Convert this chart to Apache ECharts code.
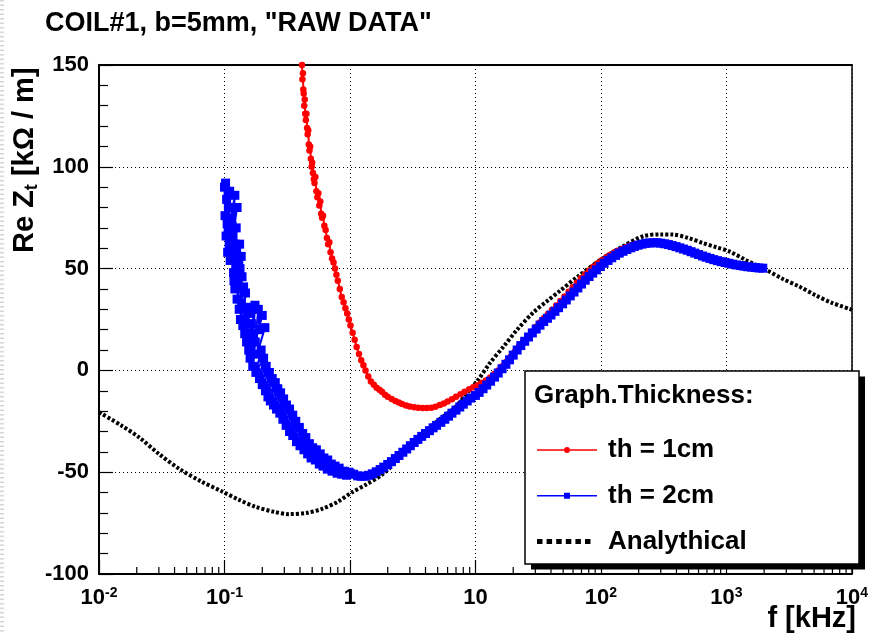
<!DOCTYPE html>
<html>
<head>
<meta charset="utf-8">
<script src="https://cdn.jsdelivr.net/npm/echarts@6/dist/echarts.min.js"></script>
<style>
html,body{margin:0;padding:0;background:#fff;}
#chart{width:871px;height:634px;}
</style>
</head>
<body>
<div id="chart"></div>
<script>
// ---- data (f in kHz, Re Zt in kOhm/m) ----
const titleText = 'COIL#1, b=5mm, "RAW DATA"';
const yTitleText = '{m|Re Z}{t|t}{m| [kΩ / m]}';
const xTitleText = 'f [kHz]';
const legendTitle = 'Graph.Thickness:';
const seriesNames = ['th = 1cm', 'th = 2cm', 'Analythical'];

const redData = [
[0.40,158],[0.415,150],[0.418,143],[0.422,146],[0.425,138],[0.428,136],[0.432,130],[0.436,133],[0.440,126],[0.445,123],
[0.450,126],[0.455,119],[0.460,116],[0.465,118],[0.470,111],[0.476,108],[0.482,110],[0.488,104],[0.495,100],[0.500,102],
[0.507,97],[0.515,94],[0.522,92],[0.530,95],[0.540,88],[0.550,85],[0.560,87],[0.570,81],[0.580,83],[0.590,77],
[0.600,75],[0.610,76],[0.625,71],[0.640,69],[0.655,65],[0.670,62],[0.685,63],[0.700,58],[0.720,55],[0.740,53],
[0.760,50],[0.780,47],[0.800,44],[0.830,40],[0.860,36],[0.890,33.5],[0.920,30.5],[0.950,28],[0.980,25],[1.01,22],
[1.05,18.5],[1.09,15],[1.13,11.5],[1.18,8],[1.23,5],[1.28,2.5],[1.33,0],[1.40,-3],[1.47,-5.5],[1.55,-7],
[1.63,-8.5],[1.72,-9.5],[1.80,-10.5],[1.90,-12],[2.00,-13],[2.15,-14],[2.30,-15],[2.45,-15.8],[2.60,-16.5],[2.80,-17.2],
[3.00,-17.7],[3.25,-18.1],[3.50,-18.4],[3.80,-18.5],[4.10,-18.5],[4.45,-18.3],[4.80,-17.8],[5.20,-17],[5.60,-16.2],[6.00,-15.3],
[6.50,-14.2],[7.00,-13],[7.60,-11.7],[8.20,-10.5],[8.90,-9.3],[9.60,-8.3],[10.4,-7.3],[11.2,-6.2],[12.1,-5],[13.1,-3.5],
[14.1,-1.8],[15.2,0],[16.4,2],[17.7,4.3],[19.1,6.7],[20.6,9.2],[22.2,11.7],[24.0,14.2],[25.9,16.7],[27.9,19],
[30.1,21.3],[32.5,23.5],[35.0,25.6],[37.8,27.7],[40.8,29.8],[44.0,31.9],[47.5,34.1],[51.2,36.3],[55.3,38.6],[59.6,40.8],
[64.3,43],[69.4,45.2],[74.9,47.2],[80.8,49.1],[87.2,50.9],[94.1,52.5],[101,54],[110,55.5],[118,56.7],[128,57.9],
[138,58.9],[149,59.8],[160,60.6],[173,61.3],[187,61.9],[201,62.4],[217,62.7],[234,62.9],[253,62.9],[273,62.8],
[294,62.5],[318,62.1],[343,61.6],[370,61],[399,60.4],[430,59.7],[464,59],[501,58.3],[540,57.6],[583,56.9],
[629,56.2],[678,55.5],[732,54.9],[790,54.3],[852,53.7],[919,53.2],[992,52.7],[1070,52.2],[1155,51.8],[1246,51.4],
[1344,51],[1450,50.7],[1565,50.4],[1688,50.2],[1822,50],[1950,49.8]
];

const blueData = [
[0.100,90],[0.101,76],[0.102,92],[0.103,66],[0.104,84],[0.105,72],[0.106,58],[0.108,80],[0.107,68],[0.110,88],
[0.109,62],[0.112,74],[0.121,86],[0.111,54],[0.115,71],[0.126,80],[0.113,60],[0.124,70],[0.118,48],[0.117,66],
[0.132,62],[0.116,55],[0.122,62],[0.136,56],[0.119,44],[0.125,58],[0.123,52],[0.121,40],[0.130,54],[0.128,42],
[0.133,50],[0.126,35],[0.138,46],[0.131,30],[0.142,41],[0.136,33],[0.134,25],[0.147,38],[0.140,22],[0.152,31],
[0.145,18],[0.158,28],[0.150,14],[0.164,23],[0.156,10],[0.175,32],[0.170,18],[0.160,6],[0.200,27],[0.176,14],
[0.168,2],[0.186,30],[0.190,20],[0.210,21],[0.182,8],[0.196,10],[0.178,-1],[0.205,6],[0.190,-4],[0.215,2],
[0.200,-7],[0.228,-1],[0.212,-10],[0.240,-4],[0.222,-13],[0.254,-6],[0.232,-15],[0.266,-9],[0.246,-17],[0.280,-11],
[0.260,-19],[0.296,-14],[0.276,-21],[0.312,-17],[0.292,-24],[0.330,-19],[0.310,-27],[0.350,-22],[0.330,-30],[0.370,-25],
[0.350,-32],[0.395,-28],[0.375,-35],[0.420,-31],[0.400,-37],[0.445,-33],[0.430,-39],[0.475,-36],[0.460,-41],[0.505,-38],
[0.490,-43],[0.540,-39],[0.530,-44],[0.580,-41],[0.570,-46],[0.620,-43],[0.610,-47],[0.665,-44],[0.660,-48.5],[0.710,-46],
[0.720,-49.5],[0.760,-47],[0.790,-50.5],[0.820,-48],[0.860,-51],[0.900,-49.5],[0.940,-51.5],[0.980,-50],
[1.00,-50.5],[1.07,-51],[1.15,-51.8],[1.23,-52],[1.32,-52],[1.41,-51.5],[1.51,-50.8],[1.62,-49.8],[1.74,-48.7],[1.86,-47.5],
[2.00,-46.2],[2.14,-44.8],[2.30,-43.3],[2.46,-41.8],[2.64,-40.2],[2.83,-38.6],[3.03,-37],[3.25,-35.4],[3.48,-33.9],[3.73,-32.4],
[4.00,-31],[4.30,-29.6],[4.60,-28.2],[4.90,-27],[5.30,-25.5],[5.70,-24],[6.10,-22.5],[6.50,-21],[7.00,-19.5],[7.50,-18],
[8.00,-16.6],[8.60,-15],[9.20,-13.6],[10.0,-12.3],[10.7,-10.8],[11.5,-9],[12.3,-7.2],[13.2,-5.3],[14.2,-3.3],[15.2,-1.3],
[16.3,0.8],[17.5,3],[18.7,5.2],[20.0,7.5],[21.5,10],[23.0,12.2],[24.7,14.3],[26.5,16.4],[28.4,18.4],[30.5,20.3],
[32.7,22.2],[35.0,24],[37.5,25.6],[40.0,27.2],[43.0,29],[46.0,30.8],[49.5,32.7],[53.0,34.6],[57.0,36.6],[61.0,38.5],
[65.5,40.5],[70.0,42.4],[75.0,44.3],[80.5,46.1],[86.0,47.8],[92.0,49.4],[99.0,51],[106,52.6],[114,54],[122,55.3],
[131,56.5],[140,57.6],[150,58.5],[161,59.4],[173,60.2],[185,60.9],[198,61.5],[212,62],[228,62.4],[244,62.6],
[262,62.7],[280,62.7],[300,62.5],[322,62.2],[345,61.8],[370,61.3],[397,60.8],[425,60.2],[455,59.6],[488,59],
[523,58.3],[560,57.6],[600,56.9],[645,56.2],[690,55.6],[740,55],[793,54.4],[850,53.9],[910,53.4],[977,53],
[1047,52.6],[1122,52.2],[1202,51.8],[1290,51.5],[1380,51.2],[1480,50.9],[1590,50.7],[1700,50.5],[1820,50.3],[1950,50.2]
];

const anaData = [
[0.01,-20.5],[0.015,-27],[0.021,-33],[0.03,-41],[0.044,-48.5],[0.065,-54.5],[0.096,-59.5],[0.13,-63.5],[0.177,-67],[0.25,-69.5],
[0.325,-70.6],[0.45,-70],[0.6,-68],[0.8,-64.5],[1.03,-60],[1.35,-56],[1.78,-51.5],[2.4,-44],[3.2,-36],[4.17,-29],
[5.3,-23.5],[6.8,-18.5],[8.5,-11.5],[10.4,-5],[13,3.5],[16.9,12],[21.5,20],[29,28.5],[38,34.5],[47,39],
[65,46],[100,54.5],[150,61],[217,65.9],[300,66.8],[375,66.7],[500,65],[647,62.6],[830,60.5],[1052,58.5],
[1450,54],[2055,49.5],[2800,45],[3774,41.3],[5100,37],[6935,33.2],[10000,29.8]
];

const xMin = 0.01, xMax = 10000;
const yMin = -100, yMax = 150, yStep = 50;
const minorMantissas = [2,3,4,5,6,7,8,9];
const decadeExps = [-2,-1,0,1,2,3];

// ---- build ----
const FONT = '"Liberation Sans", Arial, Helvetica, sans-serif';
const minorTicks = [];
decadeExps.forEach(e => minorMantissas.forEach(m => minorTicks.push([m * Math.pow(10, e), yMin])));

const chart = echarts.init(document.getElementById('chart'), null, {renderer: 'canvas'});

const dotted = {color: '#000', width: 1, type: [1, 3]};

const option = {
  animation: false,
  backgroundColor: '#fff',
  title: {
    text: titleText, left: 45, top: 10, padding: 0,
    textStyle: {fontFamily: FONT, fontWeight: 'bold', fontSize: 27, color: '#000'}
  },
  grid: {left: 99, right: 13, top: 65, bottom: 60, containLabel: false},
  xAxis: [{
    type: 'log', logBase: 10, min: xMin, max: xMax, splitNumber: 6,
    axisLine: {show: true, onZero: false, lineStyle: {color: '#000', width: 2}},
    axisTick: {show: true, inside: true, length: 14, lineStyle: {color: '#000', width: 1.2}},
    minorTick: {show: false},
    splitLine: {show: true, lineStyle: dotted},
    axisLabel: {
      margin: 12, color: '#000',
      formatter: function (v) {
        const e = Math.round(Math.log10(v));
        if (e === 0) return '{n|1}';
        if (e === 1) return '{n|10}';
        return '{n|10}{s|' + e + '}';
      },
      rich: {
        n: {fontFamily: FONT, fontWeight: 'bold', fontSize: 22, color: '#000', lineHeight: 24},
        s: {fontFamily: FONT, fontWeight: 'bold', fontSize: 14, color: '#000', lineHeight: 14, verticalAlign: 'top'}
      }
    }
  }, {
    type: 'log', logBase: 10, min: xMin, max: xMax, position: 'top',
    axisLine: {show: true, onZero: false, lineStyle: {color: '#000', width: 2}},
    axisTick: {show: false}, axisLabel: {show: false}, splitLine: {show: false}
  }],
  yAxis: [{
    type: 'value', min: yMin, max: yMax, interval: yStep,
    axisLine: {show: true, onZero: false, lineStyle: {color: '#000', width: 2}},
    axisTick: {show: true, inside: true, length: 14, lineStyle: {color: '#000', width: 1.2}},
    minorTick: {show: true, splitNumber: 5, length: 9, lineStyle: {color: '#000', width: 1.2}},
    splitLine: {show: true, lineStyle: dotted},
    axisLabel: {margin: 10, color: '#000', fontFamily: FONT, fontWeight: 'bold', fontSize: 22}
  }, {
    type: 'value', min: yMin, max: yMax, interval: yStep, position: 'right',
    axisLine: {show: true, onZero: false, lineStyle: {color: '#000', width: 1.5}},
    axisTick: {show: false}, axisLabel: {show: false}, splitLine: {show: false}
  }],
  legend: {
    left: 537, top: 437, orient: 'vertical', padding: 0,
    itemWidth: 60, itemHeight: 20, itemGap: 19.8, selectedMode: false, z: 12,
    textStyle: {fontFamily: FONT, fontWeight: 'bold', fontSize: 26, color: '#000', lineHeight: 20, padding: [0, 0, 0, 6]},
    data: [
      {name: seriesNames[0], icon: 'path://M0,2.3L27,2.3L27,3.7L0,3.7Z M33,2.3L60,2.3L60,3.7L33,3.7Z M27,3A3,3 0 1 1 33,3A3,3 0 1 1 27,3Z'},
      {name: seriesNames[1], icon: 'path://M0,2.3L27,2.3L27,3.7L0,3.7Z M33,2.3L60,2.3L60,3.7L33,3.7Z M27,0L33,0L33,6L27,6Z'},
      {name: seriesNames[2], icon: 'path://M0,0L5.5,0L5.5,5L0,5Z M9.6,0L15.1,0L15.1,5L9.6,5Z M19.2,0L24.7,0L24.7,5L19.2,5Z M28.8,0L34.3,0L34.3,5L28.8,5Z M38.4,0L43.9,0L43.9,5L38.4,5Z M48,0L53.5,0L53.5,5L48,5Z M59.9,0L60,0L60,0.1Z'}
    ]
  },
  graphic: [
    {type: 'line', z: 0, shape: {x1: 2, y1: 0, x2: 2, y2: 634}, style: {stroke: '#d6d6d6', lineWidth: 4, lineDash: [1.5, 3]}},
    {type: 'text', z: 5, x: 25, y: 253, rotation: Math.PI / 2,
      style: {text: yTitleText, fill: '#000', align: 'left', verticalAlign: 'middle',
        rich: {
          m: {fontFamily: FONT, fontWeight: 'bold', fontSize: 29, lineHeight: 32, fill: '#000'},
          t: {fontFamily: FONT, fontWeight: 'bold', fontSize: 18, lineHeight: 20, fill: '#000', verticalAlign: 'bottom'}
        }}},
    {type: 'text', z: 5, x: 856, y: 619,
      style: {text: xTitleText, fill: '#000', align: 'right', verticalAlign: 'middle',
        fontFamily: FONT, fontWeight: 'bold', fontSize: 29}},
    {type: 'rect', z: 10, shape: {x: 531, y: 376.5, width: 334, height: 193}, style: {fill: '#000'}},
    {type: 'rect', z: 10, shape: {x: 525, y: 371, width: 334, height: 193}, style: {fill: '#fff', stroke: '#000', lineWidth: 1.5}},
    {type: 'text', z: 13, x: 534, y: 395.5,
      style: {text: legendTitle, fill: '#000', align: 'left', verticalAlign: 'middle',
        fontFamily: FONT, fontWeight: 'bold', fontSize: 26}}
  ],
  series: [
    {
      name: 'minor ticks', type: 'custom', xAxisIndex: 0, yAxisIndex: 0, silent: true, z: 1,
      data: minorTicks, encode: {x: 0, y: 1},
      renderItem: function (params, api) {
        const p = api.coord([api.value(0), api.value(1)]);
        return {type: 'line', shape: {x1: p[0], y1: p[1], x2: p[0], y2: p[1] - 7}, style: {stroke: '#000', lineWidth: 1.2}};
      }
    },
    {
      name: seriesNames[2], type: 'line', data: anaData, smooth: 0.3, showSymbol: false, z: 2,
      itemStyle: {color: '#000'},
      lineStyle: {color: '#000', width: 4, type: [3, 2]}
    },
    {
      name: seriesNames[0], type: 'line', data: redData, z: 3,
      symbol: 'circle', symbolSize: 6.5, showSymbol: true,
      itemStyle: {color: '#ff0000'},
      lineStyle: {color: '#ff0000', width: 2}
    },
    {
      name: seriesNames[1], type: 'line', data: blueData, z: 4,
      symbol: 'rect', symbolSize: 9, showSymbol: true,
      itemStyle: {color: '#0000ff'},
      lineStyle: {color: '#0000ff', width: 2}
    }
  ]
};
chart.setOption(option);
</script>
</body>
</html>
